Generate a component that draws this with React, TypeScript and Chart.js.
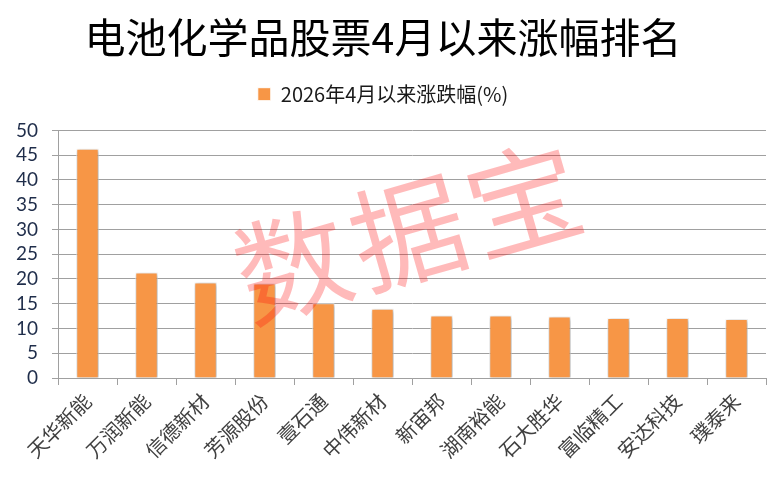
import React, { useEffect, useRef } from 'react';
import { Chart, registerables } from 'chart.js';

Chart.register(...registerables);

const titleText = '电池化学品股票4月以来涨幅排名';
const seriesLabel = '2026年4月以来涨跌幅(%)';
const categories = ['天华新能', '万润新能', '信德新材', '芳源股份', '壹石通', '中伟新材', '新宙邦', '湖南裕能', '石大胜华', '富临精工', '安达科技', '璞泰来'];
const values = [46.3, 21.3, 19.3, 19.1, 15.1, 14.0, 12.6, 12.6, 12.4, 12.1, 12.1, 11.9];
const watermarkChars = ['数', '据', '宝'];
const yMin = 0;
const yMax = 50;
const yStep = 5;

const CJK = '"Noto Sans CJK SC", "Noto Sans", sans-serif';

const shadowPlugin = {
  id: 'barShadow',
  beforeDatasetsDraw(chart: any) {
    const ctx = chart.ctx;
    ctx.save();
    ctx.shadowColor = 'rgba(0,0,0,0.35)';
    ctx.shadowBlur = 4;
    ctx.shadowOffsetX = 1;
    ctx.shadowOffsetY = 1;
  },
  afterDatasetsDraw(chart: any) {
    chart.ctx.restore();
  },
};

const watermarkPlugin = {
  id: 'watermark',
  afterDraw(chart: any) {
    const { ctx, chartArea } = chart;
    const cx = (chartArea.left + chartArea.right) / 2 - 4;
    const cy = (chartArea.top + chartArea.bottom) / 2 - 22;
    const angle = (-16 * Math.PI) / 180;
    const spacing = 120;
    ctx.save();
    ctx.translate(cx, cy);
    ctx.rotate(angle);
    ctx.font = `400 114px ${CJK}`;
    ctx.fillStyle = 'rgba(255,0,0,0.27)';
    ctx.textAlign = 'center';
    ctx.textBaseline = 'middle';
    watermarkChars.forEach((ch, i) => {
      ctx.fillText(ch, (i - 1) * spacing, 0);
    });
    ctx.restore();
  },
};

export default function App() {
  const canvasRef = useRef<HTMLCanvasElement | null>(null);

  useEffect(() => {
    document.body.style.margin = '0';
    const canvas = canvasRef.current;
    if (!canvas) return;
    const chart = new Chart(canvas, {
      type: 'bar',
      data: {
        labels: categories,
        datasets: [
          {
            label: seriesLabel,
            data: values,
            backgroundColor: '#F79646',
            borderColor: '#FFFFFF',
            borderWidth: 1,
            categoryPercentage: 1,
            barPercentage: 0.38,
          },
        ],
      },
      options: {
        responsive: false,
        animation: false,
        layout: { padding: { left: 0, right: 13, top: 0, bottom: 0 } },
        plugins: {
          title: {
            display: true,
            text: titleText,
            color: '#000000',
            font: { family: CJK, size: 41, weight: 'normal', lineHeight: 1.2 },
            padding: { top: 13, bottom: 12 },
          },
          subtitle: {
            display: true,
            text: ' ',
            font: { size: 1, lineHeight: 1.2 },
            padding: { top: 0, bottom: 15 },
            weight: 500,
          } as any,
          legend: {
            display: true,
            position: 'top',
            labels: {
              font: { family: CJK, size: 20 },
              color: '#1a1a1a',
              boxWidth: 13,
              boxHeight: 13,
              padding: 10,
            },
          },
          tooltip: { enabled: false },
        },
        scales: {
          x: {
            grid: {
              display: true,
              drawOnChartArea: false,
              drawTicks: true,
              tickLength: 7,
              color: '#a0a0a0',
            },
            border: { display: true, color: '#a0a0a0', width: 1 },
            ticks: {
              autoSkip: false,
              maxRotation: 45,
              minRotation: 45,
              color: '#404040',
              font: { family: CJK, size: 20 },
              padding: 4,
            },
            afterFit(scale: any) {
              scale.height = 111;
            },
          },
          y: {
            min: yMin,
            max: yMax,
            ticks: {
              stepSize: yStep,
              autoSkip: false,
              maxTicksLimit: 20,
              color: '#1f2d4a',
              font: { family: 'Lato, "Open Sans", sans-serif', size: 19, lineHeight: 1 },
              padding: 14,
            },
            grid: {
              color: '#a0a0a0',
              lineWidth: 1,
              tickLength: 6,
            },
            border: { display: true, color: '#a0a0a0', width: 1 },
            afterFit(scale: any) {
              scale.width = 58;
            },
          },
        },
      },
      plugins: [shadowPlugin, watermarkPlugin],
    } as any);
    return () => chart.destroy();
  }, []);

  return (
    <div style={{ width: 779, height: 489, position: 'relative' }}>
      <canvas ref={canvasRef} width={779} height={489} style={{ width: 779, height: 489, display: 'block' }} />
    </div>
  );
}
